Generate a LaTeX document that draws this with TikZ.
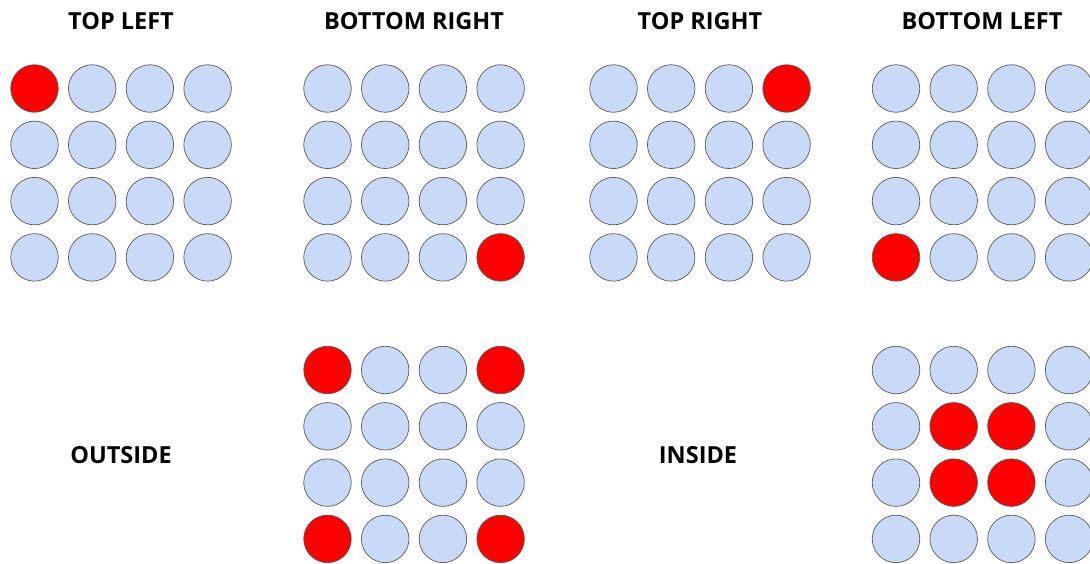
\documentclass[tikz,border=0pt]{standalone}
\usepackage{fontspec}
\setmainfont{Open Sans}
\usepackage{tikz}
\usetikzlibrary{positioning}
\definecolor{cellblue}{HTML}{C9DAF8}
\definecolor{cellred}{HTML}{FF0000}
\definecolor{rimgray}{HTML}{595959}

\tikzset{
  dot/.style={circle,draw=rimgray,line width=0.7pt,fill=cellblue,minimum size=47.5pt,inner sep=0pt},
  hot/.style={fill=cellred},
  caption/.style={font=\fontsize{23.5}{26}\selectfont\bfseries,anchor=base,inner sep=0pt},
  % red cells: group-row-column
  g1-0-0/.style=hot, g2-3-3/.style=hot, g3-0-3/.style=hot, g4-3-0/.style=hot,
  g5-0-0/.style=hot, g5-0-3/.style=hot, g5-3-0/.style=hot, g5-3-3/.style=hot,
  g6-1-1/.style=hot, g6-1-2/.style=hot, g6-2-1/.style=hot, g6-2-2/.style=hot
}

\begin{document}
\begin{tikzpicture}[x=1pt,y=-1pt]
  \useasboundingbox (0,0) rectangle (1090,563);

  \node[caption] (tl) at (121,29) {TOP LEFT};
  \node[caption] (br) at (414,29) {BOTTOM RIGHT};
  \node[caption] (tr) at (700,29) {TOP RIGHT};
  \node[caption] (bl) at (982,29) {BOTTOM LEFT};
  \node[caption] (out) at (121,463) {OUTSIDE};
  \node[caption] (in) at (698,463) {INSIDE};

  \foreach \g/\gx/\gy in {1/34.5/88.5,2/327.5/88.5,3/613.5/88.5,4/896/88.5,5/327.5/370,6/896/370}{
    \foreach \r in {0,...,3}{
      \foreach \c in {0,...,3}{
        \node[dot,g\g-\r-\c/.try] (g\g-\r-\c) at (\gx+57.7*\c,\gy+56.3*\r) {};
      }
    }
  }
\end{tikzpicture}
\end{document}
